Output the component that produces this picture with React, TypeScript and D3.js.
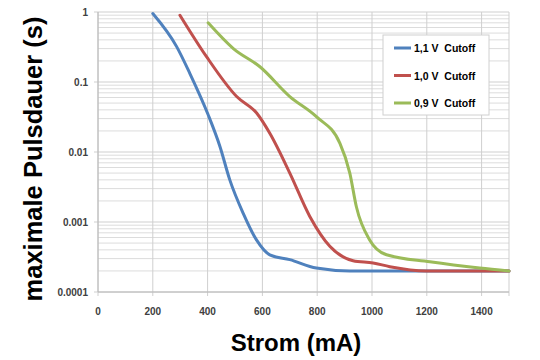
import React from 'react'
import * as d3 from 'd3'

// current in mA, pulse duration in s
const blueX = [200, 287, 335, 402, 445, 481, 530, 579, 627, 700, 797, 919, 1100, 1300, 1500]
const blueY = [0.95, 0.32, 0.133, 0.034, 0.012, 0.004, 0.00133, 0.00055, 0.00034, 0.00029, 0.00022, 0.0002, 0.0002, 0.0002, 0.0002]

const redX = [299, 396, 506, 579, 627, 700, 773, 846, 931, 1004, 1065, 1199, 1350, 1500]
const redY = [0.9, 0.23, 0.062, 0.036, 0.0185, 0.005, 0.0012, 0.00045, 0.00028, 0.00026, 0.00023, 0.0002, 0.0002, 0.0002]

const greenX = [402, 494, 591, 700, 797, 883, 919, 943, 992, 1053, 1211, 1393, 1500]
const greenY = [0.7, 0.3, 0.165, 0.062, 0.032, 0.0133, 0.005, 0.00165, 0.00055, 0.00034, 0.00027, 0.00022, 0.0002]

const seriesNames = ['1,1 V  Cutoff', '1,0 V  Cutoff', '0,9 V  Cutoff']
const seriesColors = ['#4f81bd', '#c0504d', '#9bbb59']

const xTicks = [0, 200, 400, 600, 800, 1000, 1200, 1400]
const yTicks = [1, 0.1, 0.01, 0.001, 0.0001]
const yTickLabels = ['1', '0.1', '0.01', '0.001', '0.0001']

const W = 540, H = 360
const left = 98, right = 509, top = 12, bottom = 292

const App = () => {
  const x = d3.scaleLinear().domain([0, 1500]).range([left, right])
  const y = d3.scaleLog().domain([0.0001, 1]).range([bottom, top])

  const minor: number[] = []
  for (let e = -4; e < 0; e++) {
    for (let k = 2; k <= 9; k++) minor.push(k * Math.pow(10, e))
  }

  const line = d3.line<[number, number]>()
    .x(d => x(d[0]))
    .y(d => y(d[1]))
    .curve(d3.curveMonotoneX)

  const series = [
    d3.zip(blueX, blueY) as [number, number][],
    d3.zip(redX, redY) as [number, number][],
    d3.zip(greenX, greenY) as [number, number][],
  ]

  const font = 'Liberation Sans, Arial, sans-serif'

  return (
    <div style={{ position: 'fixed', left: 0, top: 0 }}>
      <svg width={W} height={H} style={{ display: 'block', background: '#fff' }}>
        {/* minor log grid */}
        {minor.map(v => (
          <line key={'m' + v} x1={left} x2={right} y1={y(v)} y2={y(v)} stroke="#dcdcdc" strokeWidth={1} />
        ))}
        {yTicks.map(v => (
          <line key={'M' + v} x1={left - 4} x2={right} y1={y(v)} y2={y(v)} stroke="#cfcfcf" strokeWidth={1} />
        ))}
        {xTicks.concat([1500]).map(v => (
          <line key={'v' + v} x1={x(v)} x2={x(v)} y1={top} y2={bottom + 4} stroke="#cfcfcf" strokeWidth={1} />
        ))}
        <line x1={left} x2={left} y1={top} y2={bottom} stroke="#b8b8b8" />
        <line x1={left} x2={right} y1={bottom} y2={bottom} stroke="#b8b8b8" />

        {series.map((s, i) => (
          <path key={i} d={line(s) || ''} fill="none" stroke={seriesColors[i]} strokeWidth={3} strokeLinejoin="round" strokeLinecap="round" />
        ))}

        {yTicks.map((v, i) => (
          <text key={'yt' + v} x={left - 10} y={y(v) + 3.5} textAnchor="end" fontFamily={font} fontWeight="bold" fontSize={10} fill="#404040">
            {yTickLabels[i]}
          </text>
        ))}
        {xTicks.map(v => (
          <text key={'xt' + v} x={x(v)} y={315} textAnchor="middle" fontFamily={font} fontWeight="bold" fontSize={10} fill="#404040">
            {v}
          </text>
        ))}

        {/* legend */}
        <rect x={383} y={35} width={106} height={80} fill="#fff" stroke="#d0d0d0" />
        {seriesNames.map((n, i) => (
          <g key={n} transform={`translate(0,${48 + i * 27.5})`}>
            <line x1={394} x2={411} y1={0} y2={0} stroke={seriesColors[i]} strokeWidth={3} />
            <text x={414} y={4} fontFamily={font} fontWeight="bold" fontSize={10.5} fill="#000" style={{ whiteSpace: 'pre' }}>{n}</text>
          </g>
        ))}

        <text x={296} y={351} textAnchor="middle" fontFamily={font} fontWeight="bold" fontSize={24} fill="#000">
          Strom (mA)
        </text>
        <text transform="translate(42,159) rotate(-90)" textAnchor="middle" fontFamily={font} fontWeight="bold" fontSize={25.5} fill="#000">
          maximale Pulsdauer (s)
        </text>
      </svg>
    </div>
  )
}

export default App
